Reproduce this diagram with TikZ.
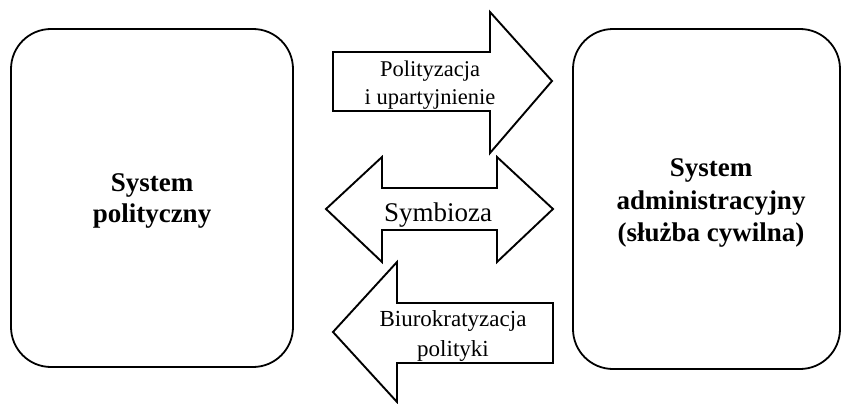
\documentclass[tikz,border=0pt]{standalone}
\usepackage{fontspec}
\setmainfont{Liberation Serif}
\begin{document}
\begin{tikzpicture}[x=1pt,y=-1pt,line join=miter,
  sysbox/.style={draw,line width=1.8pt,rounded corners=40pt},
  bigarrow/.style={draw,line width=1.9pt,fill=white},
  lbl/.style={font=\fontsize{22.5}{28}\selectfont,align=center,inner sep=0pt},
  title/.style={font=\fontsize{27}{31}\selectfont\bfseries,align=center,inner sep=0pt}]
\useasboundingbox (0,0) rectangle (843,404);
% boxes
\draw[sysbox] (11,29) rectangle (293,367);
\draw[sysbox] (573,29) rectangle (840,369);
\node[title] (pol) at (152,201) {System\\polityczny};
\node[title,font=\fontsize{27}{32.5}\selectfont\bfseries] (adm) at (711,203) {System\\administracyjny\\(służba cywilna)};
% arrow 1
\draw[bigarrow] (333,52) -- (490,52) -- (490,12) -- (552,81) -- (490,153) -- (490,111) -- (333,111) -- cycle;
\node[lbl] (a1) at (430,85) {Polityzacja\\i upartyjnienie};
% arrow 2
\draw[bigarrow] (326,209) -- (382,157) -- (382,188) -- (497,188) -- (497,157) -- (553,209)
  -- (497,262) -- (497,230) -- (382,230) -- (382,262) -- cycle;
\node[lbl,font=\fontsize{27}{31}\selectfont,anchor=base] (a2) at (438,221) {Symbioza};
% arrow 3
\draw[bigarrow] (333,332) -- (397,262) -- (397,303) -- (553,303) -- (553,363) -- (397,363) -- (397,402) -- cycle;
\node[lbl,font=\fontsize{23}{30}\selectfont] (a3) at (453,336) {Biurokratyzacja\\polityki};
\end{tikzpicture}
\end{document}
